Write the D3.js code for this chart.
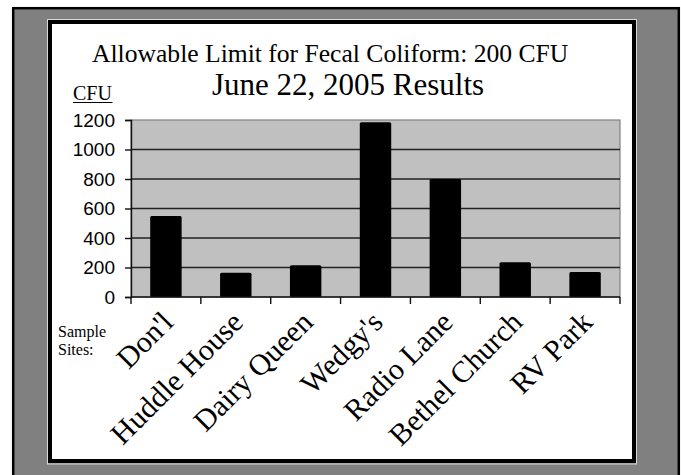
<!DOCTYPE html>
<html>
<head>
<meta charset="utf-8">
<script src="https://cdn.jsdelivr.net/npm/d3@7"></script>
<style>
  html, body { margin: 0; padding: 0; background: #ffffff; }
  svg { display: block; }
</style>
</head>
<body>
<svg id="chart" width="681" height="475"></svg>
<script>
// Fecal coliform counts per sample site (CFU), June 22, 2005
const sites = ["Don'l", "Huddle House", "Dairy Queen", "Wedgy's", "Radio Lane", "Bethel Church", "RV Park"];
const cfu = [550, 165, 215, 1185, 800, 235, 170];
const yTicks = [0, 200, 400, 600, 800, 1000, 1200];
const titleLines = ["Allowable Limit for Fecal Coliform: 200 CFU", "June 22, 2005 Results"];
const yUnit = "CFU";
const xCaption = ["Sample", "Sites:"];

const serif = "'Times New Roman', 'Liberation Serif', serif";
const sans = "Arial, 'Liberation Sans', sans-serif";

const svg = d3.select("#chart");

// Slide frame: grey mat with a thin black edge, white panel inset
svg.append("rect")
  .attr("x", 13.2).attr("y", 8.2)
  .attr("width", 665.6).attr("height", 480)
  .attr("fill", "#808080")
  .attr("stroke", "#000").attr("stroke-width", 2.5);

svg.append("rect")
  .attr("x", 47.5).attr("y", 19.5)
  .attr("width", 589).attr("height", 444.5)
  .attr("fill", "none")
  .attr("stroke", "#d8d8d8").attr("stroke-width", 1);

svg.append("rect")
  .attr("x", 50).attr("y", 22)
  .attr("width", 584).attr("height", 439)
  .attr("fill", "#ffffff")
  .attr("stroke", "#000").attr("stroke-width", 4);

// Plot area
const plot = { left: 131, right: 620, top: 120, bottom: 297 };

const x = d3.scaleBand()
  .domain(sites)
  .range([plot.left, plot.right])
  .paddingInner(0.55)
  .paddingOuter(0.275);

const y = d3.scaleLinear()
  .domain([0, 1200])
  .range([plot.bottom, plot.top]);

svg.append("rect")
  .attr("x", plot.left).attr("y", plot.top)
  .attr("width", plot.right - plot.left).attr("height", plot.bottom - plot.top)
  .attr("fill", "#c0c0c0")
  .attr("stroke", "#808080").attr("stroke-width", 1.2);

// Horizontal gridlines
svg.append("g")
  .selectAll("line")
  .data(yTicks.filter(t => t > 0 && t < 1200))
  .join("line")
  .attr("x1", plot.left).attr("x2", plot.right)
  .attr("y1", d => y(d)).attr("y2", d => y(d))
  .attr("stroke", "#222").attr("stroke-width", 1.4);

// Bars
svg.append("g")
  .selectAll("rect")
  .data(sites.map((s, i) => ({ site: s, value: cfu[i] })))
  .join("rect")
  .attr("x", d => x(d.site))
  .attr("y", d => y(d.value))
  .attr("width", x.bandwidth())
  .attr("height", d => y(0) - y(d.value))
  .attr("rx", 1.5)
  .attr("fill", "#000");

// Y axis
const yAxis = svg.append("g")
  .attr("transform", `translate(${plot.left},0)`)
  .call(d3.axisLeft(y).tickValues(yTicks).tickSize(6).tickPadding(10).tickFormat(d3.format("d")));
yAxis.select(".domain").attr("stroke", "#111").attr("stroke-width", 1.4);
yAxis.selectAll(".tick line").attr("stroke", "#111").attr("stroke-width", 1.4);
yAxis.selectAll(".tick text")
  .attr("font-family", sans).attr("font-size", 19)
  .attr("fill", "#000");

// X axis: ticks fall on the category boundaries
const boundaries = sites.map(s => x(s) - x.step() * x.paddingInner() / 2)
  .concat([plot.right]);
const xAxis = svg.append("g");
xAxis.append("line")
  .attr("x1", plot.left).attr("x2", plot.right)
  .attr("y1", plot.bottom).attr("y2", plot.bottom)
  .attr("stroke", "#111").attr("stroke-width", 1.4);
xAxis.selectAll("line.tk")
  .data(boundaries)
  .join("line")
  .attr("class", "tk")
  .attr("x1", d => d).attr("x2", d => d)
  .attr("y1", plot.bottom).attr("y2", plot.bottom + 7)
  .attr("stroke", "#111").attr("stroke-width", 1.4);

// Slanted site names
xAxis.selectAll("text")
  .data(sites)
  .join("text")
  .attr("transform", d => `translate(${x(d) + x.bandwidth() / 2 + 9},${plot.bottom + 27}) rotate(-45)`)
  .attr("text-anchor", "end")
  .attr("font-family", serif).attr("font-size", 30)
  .attr("fill", "#000")
  .text(d => d);

// Titles
svg.append("text")
  .attr("x", 92).attr("y", 61.5)
  .attr("font-family", serif).attr("font-size", 25.6)
  .attr("fill", "#000")
  .text(titleLines[0]);
svg.append("text")
  .attr("x", 212).attr("y", 95)
  .attr("font-family", serif).attr("font-size", 31)
  .attr("fill", "#000")
  .text(titleLines[1]);

// Unit label, underlined
svg.append("text")
  .attr("x", 73).attr("y", 100)
  .attr("font-family", serif).attr("font-size", 20)
  .attr("fill", "#000")
  .text(yUnit);
svg.append("line")
  .attr("x1", 73).attr("x2", 112.5)
  .attr("y1", 102.5).attr("y2", 102.5)
  .attr("stroke", "#000").attr("stroke-width", 1);

// Caption beside the site names
svg.append("g")
  .selectAll("text")
  .data(xCaption)
  .join("text")
  .attr("x", 58)
  .attr("y", (d, i) => 337 + i * 18)
  .attr("font-family", serif).attr("font-size", 16)
  .attr("fill", "#000")
  .text(d => d);
</script>
</body>
</html>
